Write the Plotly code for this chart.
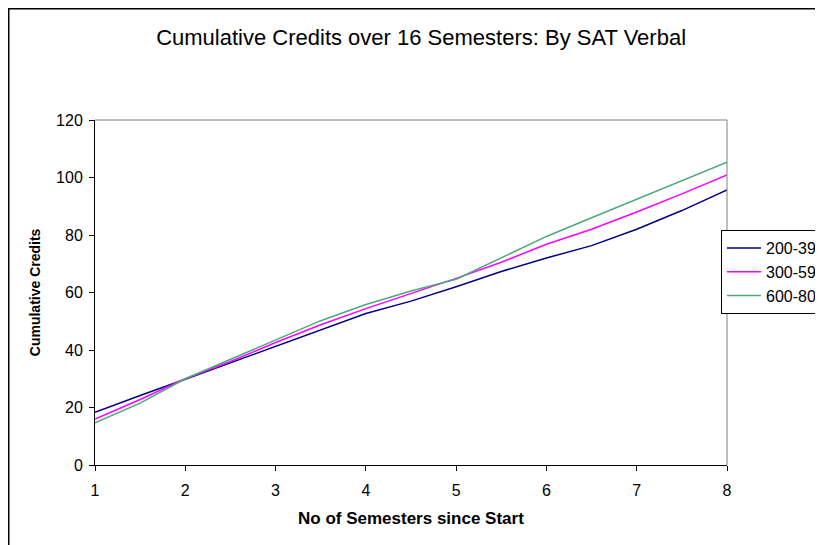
import plotly.graph_objects as go

# semesters plotted against the 1..8 axis (half-year steps)
semesters = [1, 1.5, 2, 2.5, 3, 3.5, 4, 4.5, 5, 5.5, 6, 6.5, 7, 7.5, 8]
sat_200_399 = [18.3, 24.2, 29.8, 35.5, 41.4, 47.0, 52.7, 57.0, 62.0, 67.3, 72.0, 76.3, 82.0, 88.5, 95.7]
sat_300_599 = [16.0, 22.8, 30.0, 36.0, 42.6, 48.8, 54.4, 59.7, 64.9, 70.5, 76.8, 82.0, 88.0, 94.3, 100.9]
sat_600_800 = [14.7, 21.5, 30.0, 36.8, 43.6, 50.2, 55.8, 60.5, 64.6, 72.0, 79.5, 86.0, 92.5, 99.0, 105.3]
series_names = ["200-399", "300-599", "600-800"]
colors = ["#000080", "#FF00FF", "#4FA77E"]

FONT = "Liberation Sans, Arial, sans-serif"

fig = go.Figure()
for name, ys, col in zip(series_names, [sat_200_399, sat_300_599, sat_600_800], colors):
    fig.add_trace(go.Scatter(x=semesters, y=ys, name=name, mode="lines",
                             line=dict(color=col, width=1.5)))

# page body has an 8px margin, so the figure is 815x537
fig.update_layout(
    width=815, height=537,
    margin=dict(l=87, r=96, t=112, b=80, autoexpand=False),
    paper_bgcolor="white", plot_bgcolor="white",
    font=dict(family=FONT, size=16, color="black"),
    title=dict(text="Cumulative Credits over 16 Semesters: By SAT Verbal",
               x=0.516, xref="paper", xanchor="center",
               y=1 - 29 / 537, yref="container", yanchor="middle",
               font=dict(family=FONT, size=22, color="black")),
    showlegend=True,
    legend=dict(x=0.9905, y=0.681, xanchor="left", yanchor="top",
                bgcolor="white", bordercolor="black", borderwidth=1,
                font=dict(family=FONT, size=16), itemwidth=34),
)

fig.update_xaxes(range=[1, 8], tickvals=list(range(1, 9)), showgrid=False, zeroline=False,
                 showline=True, linecolor="black", linewidth=1,
                 ticks="outside", ticklen=5, tickcolor="black", ticklabelstandoff=6)
fig.update_yaxes(range=[0, 120], dtick=20, showgrid=False, zeroline=False,
                 showline=True, linecolor="black", linewidth=1,
                 ticks="outside", ticklen=5, tickcolor="black", ticklabelstandoff=3)

# plot area border (top and right, grey) and the outer chart border
fig.add_shape(type="line", xref="paper", yref="paper", x0=0, x1=1, y0=1, y1=1,
              line=dict(color="#808080", width=1))
fig.add_shape(type="line", xref="paper", yref="paper", x0=1, x1=1, y0=0, y1=1,
              line=dict(color="#808080", width=1))
fig.add_shape(type="rect", xref="paper", yref="paper", x0=-0.1365, x1=1.4, y0=-0.5, y1=1.3225,
              line=dict(color="black", width=1.5), layer="above")

# axis titles
fig.add_annotation(text="<b>No of Semesters since Start</b>", xref="paper", yref="paper",
                   x=0.5, y=-0.1565, xanchor="center", yanchor="middle", showarrow=False,
                   font=dict(family=FONT, size=17))
fig.add_annotation(text="<b>Cumulative Credits</b>", xref="paper", yref="paper",
                   x=-0.0949, y=0.501, xanchor="center", yanchor="middle", showarrow=False,
                   textangle=-90, font=dict(family=FONT, size=14))

fig.write_html("out.html")
